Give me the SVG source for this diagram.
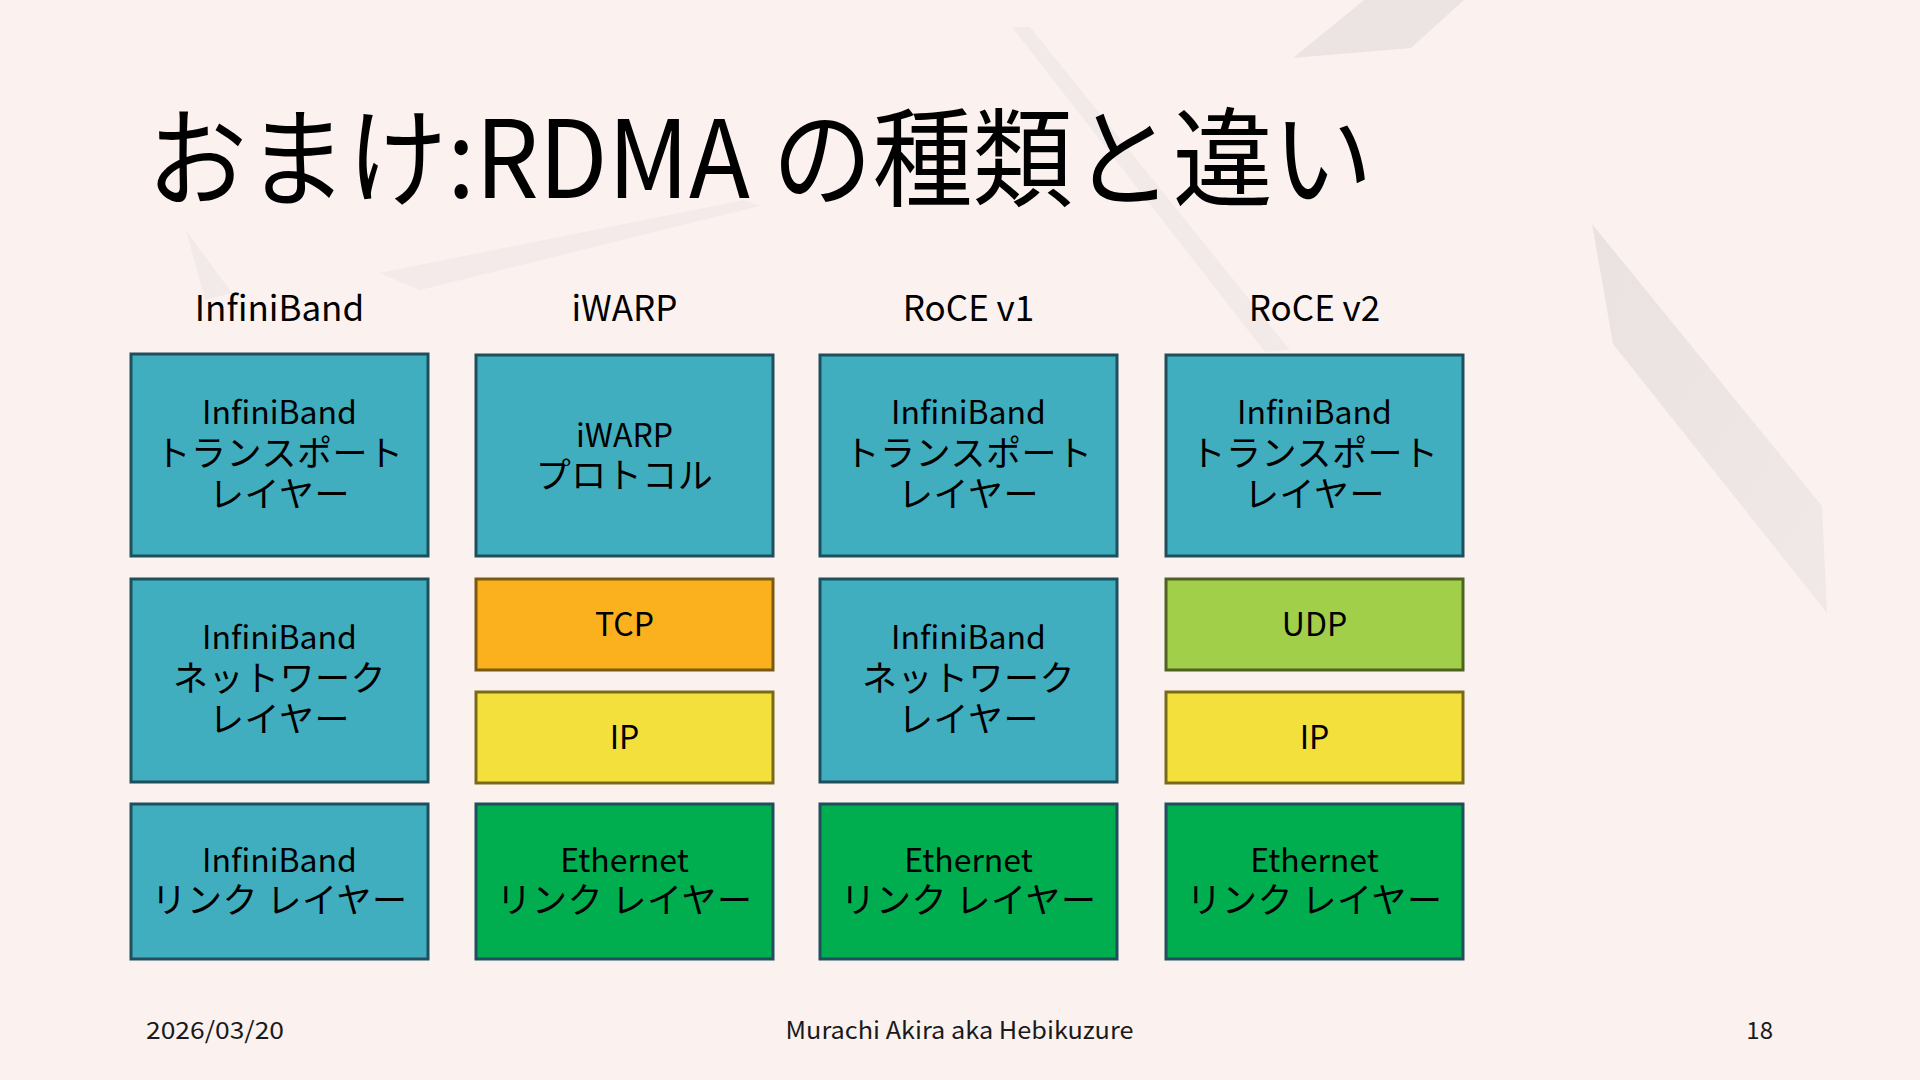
<svg xmlns="http://www.w3.org/2000/svg" width="1920" height="1080" viewBox="0 0 1920 1080">
<defs>
<style>
.t{font-family:"Noto Sans CJK JP","Noto Sans",sans-serif;fill:#000;text-anchor:middle}
.lat{font-size:32px}
.jp{font-size:35px;letter-spacing:0.5px}
.hd{font-family:"Noto Sans CJK JP","Noto Sans",sans-serif;font-size:35px;fill:#000;text-anchor:middle}
.ft{font-family:"Noto Sans CJK JP","Noto Sans",sans-serif;font-size:24px;fill:#1a1a1a}
.blue{fill:#40AEBF;stroke:#1F4E5C;stroke-width:3}
.orange{fill:#FBB01E;stroke:#7A5A12;stroke-width:3}
.yellow{fill:#F3E03C;stroke:#7A6A18;stroke-width:3}
.lime{fill:#A2CF4A;stroke:#4F6222;stroke-width:3}
.green{fill:#00AE4F;stroke:#1F4E5C;stroke-width:3}
</style>
<linearGradient id="pan" x1="0" y1="0" x2="1" y2="1">
<stop offset="0" stop-color="#dcd5d5"/>
<stop offset="1" stop-color="#e8e1e1"/>
</linearGradient>
</defs>
<rect width="1920" height="1080" fill="#FBF2F0"/>
<g id="background">
<polygon points="1364,0 1464,0 1411,48 1293,58" fill="#e2dada" opacity="0.6"/>
<polygon points="1012,27 1030,27 1290,350 1265,352" fill="#e6dede" opacity="0.4"/>
<polygon points="1592,224 1822,506 1827,613 1613,344" fill="url(#pan)" opacity="0.55"/>
<polygon points="379,273 744,200 760,206 420,290" fill="#e6dede" opacity="0.35"/>
<polygon points="186,230 232,293 205,300" fill="#e6dede" opacity="0.4"/>
</g>
<text x="147" y="198" font-family="'Noto Sans CJK JP','Noto Sans',sans-serif" font-size="108" fill="#000" textLength="1226" lengthAdjust="spacingAndGlyphs">おまけ:RDMA の種類と違い</text>
<g id="headers">
<text class="hd" x="279.5" y="321">InfiniBand</text>
<text class="hd" x="624.5" y="321">iWARP</text>
<text class="hd" x="968.5" y="321">RoCE v1</text>
<text class="hd" x="1314.5" y="321">RoCE v2</text>
</g>
<g id="ib-transport">
<rect class="blue" x="131" y="354" width="297" height="202"/>
<text class="t lat" x="279.5" y="424">InfiniBand</text>
<text class="t jp" x="279.5" y="466">トランスポート</text>
<text class="t jp" x="279.5" y="507">レイヤー</text>
</g>
<g id="ib-network">
<rect class="blue" x="131" y="579" width="297" height="203"/>
<text class="t lat" x="279.5" y="649">InfiniBand</text>
<text class="t jp" x="279.5" y="691">ネットワーク</text>
<text class="t jp" x="279.5" y="732">レイヤー</text>
</g>
<g id="ib-link">
<rect class="blue" x="131" y="804" width="297" height="155"/>
<text class="t lat" x="279.5" y="872">InfiniBand</text>
<text class="t jp" x="279.5" y="913">リンク レイヤー</text>
</g>
<g id="iwarp-protocol">
<rect class="blue" x="476" y="355" width="297" height="201"/>
<text class="t lat" x="624.5" y="447">iWARP</text>
<text class="t jp" x="624.5" y="488">プロトコル</text>
</g>
<g id="iwarp-tcp">
<rect class="orange" x="476" y="579" width="297" height="91"/>
<text class="t lat" x="624.5" y="636">TCP</text>
</g>
<g id="iwarp-ip">
<rect class="yellow" x="476" y="692" width="297" height="91"/>
<text class="t lat" x="624.5" y="749">IP</text>
</g>
<g id="iwarp-eth">
<rect class="green" x="476" y="804" width="297" height="155"/>
<text class="t lat" x="624.5" y="872">Ethernet</text>
<text class="t jp" x="624.5" y="913">リンク レイヤー</text>
</g>
<g id="rocev1-transport">
<rect class="blue" x="820" y="355" width="297" height="201"/>
<text class="t lat" x="968.5" y="424">InfiniBand</text>
<text class="t jp" x="968.5" y="466">トランスポート</text>
<text class="t jp" x="968.5" y="507">レイヤー</text>
</g>
<g id="rocev1-network">
<rect class="blue" x="820" y="579" width="297" height="203"/>
<text class="t lat" x="968.5" y="649">InfiniBand</text>
<text class="t jp" x="968.5" y="691">ネットワーク</text>
<text class="t jp" x="968.5" y="732">レイヤー</text>
</g>
<g id="rocev1-eth">
<rect class="green" x="820" y="804" width="297" height="155"/>
<text class="t lat" x="968.5" y="872">Ethernet</text>
<text class="t jp" x="968.5" y="913">リンク レイヤー</text>
</g>
<g id="rocev2-transport">
<rect class="blue" x="1166" y="355" width="297" height="201"/>
<text class="t lat" x="1314.5" y="424">InfiniBand</text>
<text class="t jp" x="1314.5" y="466">トランスポート</text>
<text class="t jp" x="1314.5" y="507">レイヤー</text>
</g>
<g id="rocev2-udp">
<rect class="lime" x="1166" y="579" width="297" height="91"/>
<text class="t lat" x="1314.5" y="636">UDP</text>
</g>
<g id="rocev2-ip">
<rect class="yellow" x="1166" y="692" width="297" height="91"/>
<text class="t lat" x="1314.5" y="749">IP</text>
</g>
<g id="rocev2-eth">
<rect class="green" x="1166" y="804" width="297" height="155"/>
<text class="t lat" x="1314.5" y="872">Ethernet</text>
<text class="t jp" x="1314.5" y="913">リンク レイヤー</text>
</g>
<g id="connectors"></g>
<g id="footer">
<text class="ft" x="146" y="1039" textLength="138" lengthAdjust="spacingAndGlyphs">2026/03/20</text>
<text class="ft" x="959.5" y="1039" text-anchor="middle" textLength="348" lengthAdjust="spacingAndGlyphs">Murachi Akira aka Hebikuzure</text>
<text class="ft" x="1773" y="1039" text-anchor="end">18</text>
</g>
</svg>
